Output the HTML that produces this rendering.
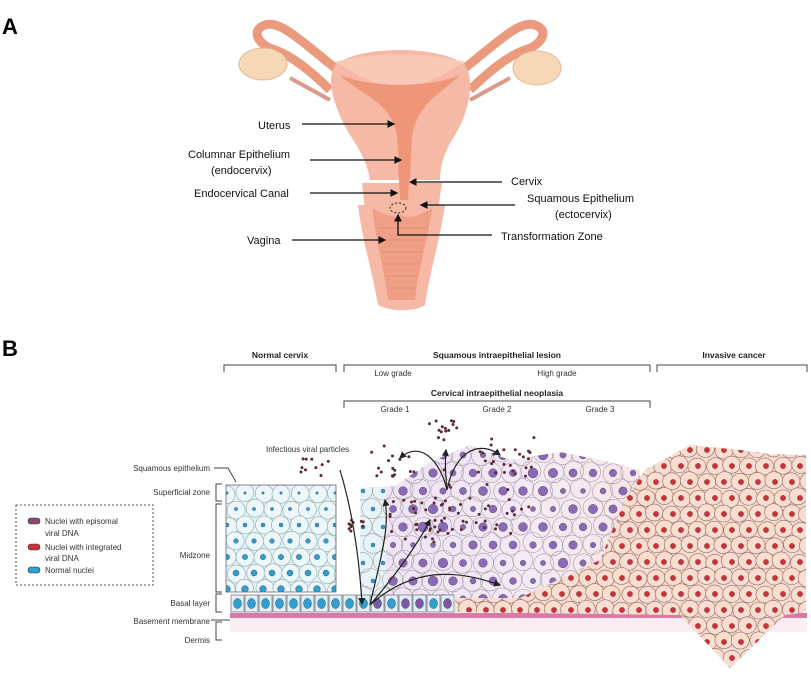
<!DOCTYPE html>
<html><head><meta charset="utf-8">
<style>
html,body{margin:0;padding:0;background:#fff;}
svg{display:block;font-family:"Liberation Sans",sans-serif;}
.lb{font-size:11px;fill:#111;}
.sm{font-size:8px;fill:#333;}
.hd{font-size:8.5px;fill:#222;font-weight:bold;}
</style></head><body>
<svg id="s" width="811" height="678" viewBox="0 0 811 678" xmlns="http://www.w3.org/2000/svg">
<defs>
<marker id="ar" markerWidth="6" markerHeight="6" refX="5" refY="3" orient="auto"><path d="M0,0 L6,3 L0,6 z" fill="#111"/></marker>
<marker id="ar2" markerWidth="6" markerHeight="6" refX="5" refY="3" orient="auto"><path d="M0,0 L6,3 L0,6 z" fill="#222"/></marker>
<linearGradient id="les" x1="0" x2="1"><stop offset="0" stop-color="#ece2f2"/><stop offset="0.6" stop-color="#f4eaf5"/><stop offset="1" stop-color="#f8e6e8"/></linearGradient>
<clipPath id="cNorm"><rect x="226" y="485" width="110" height="107"/></clipPath>
<clipPath id="cLes"><path d="M360,595 L360,488 L395,486 L430,462 L470,445 L510,460 L560,452 L610,462 L640,470 L640,560 L600,600 L455,600 L455,595 Z"/></clipPath>
<clipPath id="cCan"><path d="M455,612 L455,598 L520,598 L600,560 L625,500 L645,470 L690,445 L740,450 L770,454 L806,455 L806,612 L785,615 L730,668 L680,615 Z"/></clipPath>
</defs>
<text x="2" y="34" font-size="22" font-weight="bold" fill="#000">A</text>
<text x="2" y="356" font-size="22" font-weight="bold" fill="#000">B</text>

<g>
<path d="M335,68 C300,40 280,20 265,25 C250,30 258,45 275,50 C290,55 310,70 330,90" fill="none" stroke="#ec9a7e" stroke-width="9"/>
<path d="M465,68 C500,40 520,20 535,25 C550,30 542,45 525,50 C510,55 490,70 470,90" fill="none" stroke="#ec9a7e" stroke-width="9"/>
<path d="M290,78 L330,100" stroke="#d99a88" stroke-width="4"/>
<path d="M510,78 L470,100" stroke="#d99a88" stroke-width="4"/>
<ellipse cx="263" cy="64" rx="24" ry="16" fill="#f6d8b6" stroke="#e8b898"/>
<ellipse cx="537" cy="68" rx="24" ry="17" fill="#f6d8b6" stroke="#e8b898"/>
<path d="M335,65 C360,45 440,45 465,65 C475,80 470,110 455,135 C445,150 440,165 440,180 L370,180 C368,165 360,150 350,135 C335,110 325,80 335,65 Z" fill="#f6b9a5"/>
<path d="M335,62 C370,52 430,52 465,62 C450,70 430,85 400,88 C370,85 350,70 335,62 Z" fill="#f9c9b8"/>
<path d="M340,75 C370,88 430,88 460,75 C440,95 420,100 412,135 L410,180 L400,180 L397,135 C390,100 360,95 340,75 Z" fill="#ef9679"/>
<path d="M362,183 L442,183 L438,210 L365,210 Z" fill="#f6b9a5"/>
<path d="M398,165 L410,165 L408,200 L400,200 Z" fill="#ef9679"/>
<path d="M358,205 L445,205 C440,240 430,270 425,305 C415,312 390,312 378,305 C372,270 362,240 358,205 Z" fill="#f6b9a5"/>
<path d="M372,208 C385,215 395,220 402,215 C410,220 420,215 432,208 C428,240 418,270 415,300 L388,300 C384,270 376,240 372,208 Z" fill="#ef9f86"/>
<g stroke="#e58c70" stroke-width="1" fill="none">
<path d="M378,228 h48"/><path d="M380,240 h44"/><path d="M382,252 h40"/><path d="M384,264 h36"/><path d="M386,276 h32"/><path d="M388,288 h28"/>
</g>
<ellipse cx="398" cy="208" rx="8" ry="5" fill="none" stroke="#222" stroke-dasharray="2,2"/>
</g>
<g stroke="#111" stroke-width="1.3" fill="none">
<line x1="302" y1="124" x2="394" y2="124" marker-end="url(#ar)"/>
<line x1="310" y1="160" x2="401" y2="160" marker-end="url(#ar)"/>
<line x1="310" y1="193" x2="397" y2="193" marker-end="url(#ar)"/>
<line x1="502" y1="182" x2="410" y2="182" marker-end="url(#ar)"/>
<line x1="515" y1="205" x2="421" y2="205" marker-end="url(#ar)"/>
<polyline points="492,235 398,235 398,215" marker-end="url(#ar)"/>
<line x1="292" y1="240" x2="385" y2="240" marker-end="url(#ar)"/>
</g>
<text class="lb" x="258" y="129">Uterus</text>
<text class="lb" x="188" y="158">Columnar Epithelium</text>
<text class="lb" x="211" y="174">(endocervix)</text>
<text class="lb" x="194" y="197">Endocervical Canal</text>
<text class="lb" x="511" y="185">Cervix</text>
<text class="lb" x="527" y="202">Squamous Epithelium</text>
<text class="lb" x="555" y="218">(ectocervix)</text>
<text class="lb" x="501" y="240">Transformation Zone</text>
<text class="lb" x="247" y="244">Vagina</text>

<g stroke="#444" fill="none" stroke-width="1">
<path d="M224,372 V365 H336 V372"/>
<path d="M344,372 V365 H650 V372"/>
<path d="M657,372 V365 H807 V372"/>
<path d="M344,408 V401 H650 V408"/>
</g>
<text class="hd" x="280" y="358" text-anchor="middle">Normal cervix</text>
<text class="hd" x="497" y="358" text-anchor="middle">Squamous intraepithelial lesion</text>
<text class="hd" x="734" y="358" text-anchor="middle">Invasive cancer</text>
<text class="sm" x="393" y="376" text-anchor="middle">Low grade</text>
<text class="sm" x="557" y="376" text-anchor="middle">High grade</text>
<text class="hd" x="497" y="396" text-anchor="middle">Cervical intraepithelial neoplasia</text>
<text class="sm" x="395" y="412" text-anchor="middle">Grade 1</text>
<text class="sm" x="497" y="412" text-anchor="middle">Grade 2</text>
<text class="sm" x="600" y="412" text-anchor="middle">Grade 3</text>

<text class="sm" x="210" y="471" text-anchor="end">Squamous epithelium</text>
<text class="sm" x="210" y="495" text-anchor="end">Superficial zone</text>
<text class="sm" x="210" y="558" text-anchor="end">Midzone</text>
<text class="sm" x="210" y="606" text-anchor="end">Basal layer</text>
<text class="sm" x="210" y="624" text-anchor="end">Basement membrane</text>
<text class="sm" x="210" y="643" text-anchor="end">Dermis</text>
<g stroke="#444" fill="none">
<path d="M214,468 H228 L236,482"/>
<path d="M222,484 H216 V501 H222"/>
<path d="M222,504 H216 V592 H222"/>
<path d="M222,594 H216 V612 H222"/>
<path d="M211,620 H230"/>
<path d="M222,622 H216 V640 H222"/>
</g>
<rect x="16" y="505" width="137" height="80" fill="none" stroke="#555" stroke-dasharray="2,2"/>
<rect x="28" y="518" width="12" height="6" rx="3" fill="#8b4a7a" stroke="#333" stroke-width=".6"/>
<rect x="28" y="544" width="12" height="6" rx="3" fill="#c8343a" stroke="#333" stroke-width=".6"/>
<rect x="28" y="567" width="12" height="6" rx="3" fill="#2e9fd0" stroke="#333" stroke-width=".6"/>
<text class="sm" x="45" y="524">Nuclei with episomal</text>
<text class="sm" x="45" y="536">viral DNA</text>
<text class="sm" x="45" y="550">Nuclei with integrated</text>
<text class="sm" x="45" y="561">viral DNA</text>
<text class="sm" x="45" y="573">Normal nuclei</text>

<rect x="230" y="618" width="577" height="14" fill="#fbeef3"/>
<rect x="230" y="613" width="577" height="5" fill="#d97aa6"/>
<g id="cells"></g>
<g stroke="#222" stroke-width="1.2" fill="none">
<path d="M340,470 C355,520 360,570 362,604" marker-end="url(#ar2)"/>
<path d="M447,490 C440,460 420,440 400,458" marker-end="url(#ar2)"/>
<path d="M447,490 C455,450 480,440 500,455" marker-end="url(#ar2)"/>
<path d="M447,490 C445,470 445,460 446,450" marker-end="url(#ar2)"/>
<path d="M370,605 C380,560 390,530 385,500" marker-end="url(#ar2)"/>
<path d="M370,605 C420,560 470,575 500,585" marker-end="url(#ar2)"/>
<path d="M370,605 C400,570 420,540 430,520" marker-end="url(#ar2)"/>
</g>
<text class="sm" x="266" y="452">Infectious viral particles</text>
</svg>
<script>
(function(){
var NS="http://www.w3.org/2000/svg",g=document.getElementById("cells");
var seed=7;function r(){seed=(seed*16807)%2147483647;return seed/2147483647;}
function el(t,a,p){var e=document.createElementNS(NS,t);for(var k in a)e.setAttribute(k,a[k]);(p||g).appendChild(e);return e;}
var gn=el("g",{"clip-path":"url(#cNorm)"});
el("rect",{x:226,y:485,width:110,height:107,fill:"#e6f3f9"},gn);
var row=0;
for(var y=492;y<600;y+=16,row++)for(var x=226+(row%2)*9;x<345;x+=18){
 el("ellipse",{cx:x+r()*3,cy:y+r()*3,rx:9,ry:9,fill:"#ecf6fb",stroke:"#8aa","stroke-width":0.6},gn);
 var s=1.2+(y-490)/45;el("circle",{cx:x+1,cy:y+1,r:s,fill:"#2e9fd0",stroke:"#235","stroke-width":.4},gn);}
el("rect",{x:226,y:485,width:110,height:107,fill:"none",stroke:"#667","stroke-width":0.8});
var gl=el("g",{"clip-path":"url(#cLes)"});
el("rect",{x:355,y:440,width:290,height:165,fill:"url(#les)"},gl);
el("rect",{x:360,y:488,width:26,height:110,fill:"#e6f3f9"},gl);
row=0;
for(var y=452;y<600;y+=18,row++)for(var x=360+(row%2)*10;x<650;x+=20){
 el("ellipse",{cx:x+r()*4,cy:y+r()*4,rx:10,ry:10,fill:"none",stroke:"#a79aa7","stroke-width":.6},gl);
 el("circle",{cx:x+3,cy:y+3,r:x<390?2:(2.5+r()*2.5),fill:x<390?"#2e9fd0":"#8a6ab8",stroke:"#444","stroke-width":.4},gl);}
for(var i=0;i<16;i++){var x=231+i*14;el("rect",{x:x,y:595,width:13,height:17,fill:"#e0f0f8",stroke:"#556","stroke-width":.6});
 el("ellipse",{cx:x+6.5,cy:603.5,rx:4,ry:5,fill:(i>9&&i%3!=2)?"#7a5aa8":"#2e9fd0",stroke:"#333","stroke-width":.4});}
var gc=el("g",{"clip-path":"url(#cCan)"});
el("rect",{x:450,y:440,width:360,height:230,fill:"#f7dccf"},gc);
row=0;
for(var y=448;y<672;y+=16,row++)for(var x=450+(row%2)*8;x<815;x+=17){
 el("ellipse",{cx:x+r()*3,cy:y+r()*3,rx:9,ry:8.5,fill:"#f8ddd0",stroke:"#8a6a60","stroke-width":.6},gc);
 el("circle",{cx:x+2,cy:y+2,r:2.6,fill:"#c8343a",stroke:"#612","stroke-width":.4},gc);}
var P=[[300,458,30,10],[370,445,45,16],[425,418,35,14],[480,435,55,18],[420,460,110,45],[390,500,60,25],[345,520,20,10]];
P.forEach(function(p){for(var i=0;i<p[3];i++)el("circle",{cx:p[0]+r()*p[2],cy:p[1]+r()*p[2]*0.7,r:1.5,fill:"#5a2a35"});});
})();
</script>
</body></html>
